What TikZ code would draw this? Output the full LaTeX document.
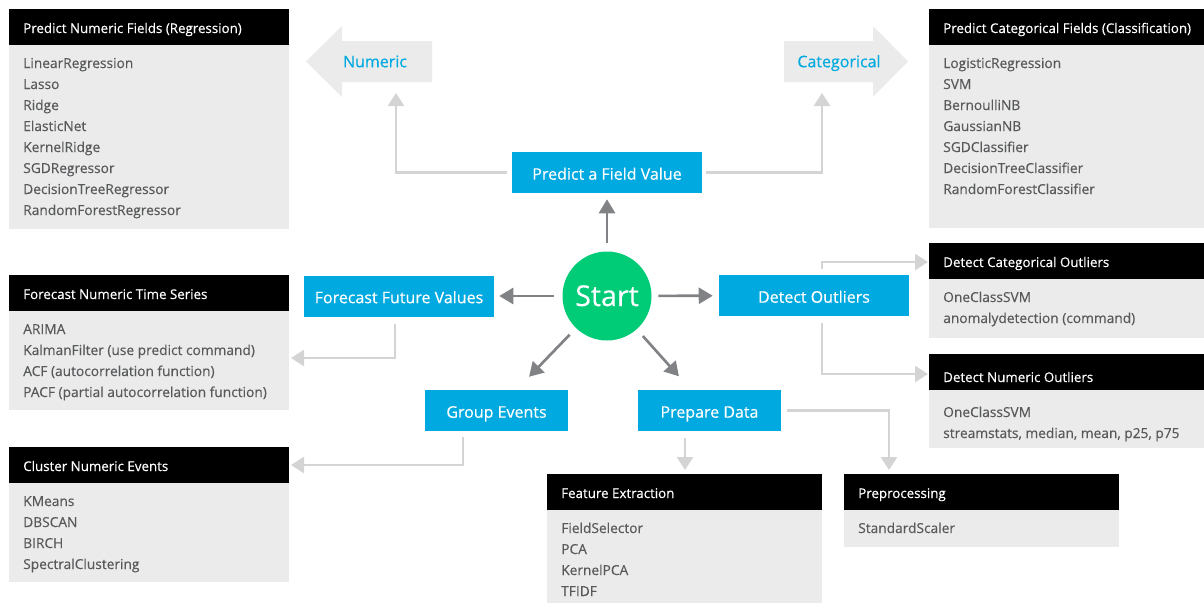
\documentclass[tikz,border=0pt]{standalone}
\usepackage{fontspec}
\setmainfont{Open Sans}
\newfontfamily\medfont{Open Sans}[FakeBold=0.35]
\usetikzlibrary{arrows.meta,calc}
\definecolor{bluebox}{HTML}{00A9E0}
\definecolor{startgreen}{HTML}{00CC78}
\definecolor{bodygray}{HTML}{EBEBEB}
\definecolor{conngray}{HTML}{D4D4D4}
\definecolor{darkarrow}{HTML}{808285}
\definecolor{itemgray}{HTML}{58595B}
\newcommand\pxl{0.75pt}
\tikzset{
  hdrbox/.style={anchor=north west, fill=black, minimum height=36*\pxl, inner sep=0pt, draw=none},
  bodybox/.style={anchor=north west, fill=bodygray, inner sep=0pt, draw=none},
  hdrtext/.style={anchor=base west, inner sep=0pt, text=white, font=\medfont\fontsize{10}{12}\selectfont},
  itemtext/.style={anchor=base west, inner sep=0pt, text=itemgray, font=\medfont\fontsize{10.3}{12}\selectfont},
  bbox/.style={fill=bluebox, text=white, inner sep=0pt, minimum height=41*\pxl, text height=10.8pt, text depth=0pt, font=\medfont\fontsize{12}{14}\selectfont},
  bigarrow/.style={fill=bodygray, draw=none},
  bigarrowtext/.style={text=bluebox, inner sep=0pt, text height=8.6pt, text depth=0pt, font=\medfont\fontsize{12}{14}\selectfont},
  conn/.style={draw=conngray, line width=2pt, -{Triangle[length=9.75pt,width=12pt]}},
  darr/.style={draw=darkarrow, line width=2pt, -{Triangle[length=10.5pt,width=12pt]}}
}
% name, x, top, width, bottom, title, items, text offset
\newcommand\catbox[8]{%
  \node[hdrbox, minimum width=#4*\pxl] (#1-hd) at (#2,#3) {};
  \node[bodybox, minimum width=#4*\pxl, minimum height=(#5-#3-36)*\pxl] (#1-bd) at (#2,#3+36) {};
  \node[hdrtext] (#1-title) at (#2+14,#3+24+#8) {#6};
  \foreach \itm [count=\k] in {#7}
    \node[itemtext] (#1-i\k) at (#2+14,#3+36+23+21*\k-21+#8) {\itm};
}
\begin{document}
\begin{tikzpicture}[x=0.75pt,y=-0.75pt]
\useasboundingbox (0,0) rectangle (1204,603);

% category boxes
\catbox{reg}{9}{9}{280}{229}{Predict Numeric Fields (Regression)}{LinearRegression,Lasso,Ridge,ElasticNet,KernelRidge,SGDRegressor,DecisionTreeRegressor,RandomForestRegressor}{0}
\catbox{cls}{929}{9}{275}{228}{Predict Categorical Fields (Classification)}{LogisticRegression,SVM,BernoulliNB,GaussianNB,SGDClassifier,DecisionTreeClassifier,RandomForestClassifier}{0}
\catbox{fct}{9}{275}{280}{410}{Forecast Numeric Time Series}{ARIMA,KalmanFilter (use predict command),ACF (autocorrelation function),PACF (partial autocorrelation function)}{0}
\catbox{clu}{9}{447}{280}{582}{Cluster Numeric Events}{KMeans,DBSCAN,BIRCH,SpectralClustering}{0}
\catbox{dco}{929}{243}{275}{338}{Detect Categorical Outliers}{OneClassSVM,anomalydetection (command)}{0}
\catbox{dno}{929}{354}{275}{448}{Detect Numeric Outliers}{OneClassSVM,{streamstats, median, mean, p25, p75}}{4}
\catbox{fe}{547}{474}{275}{603}{Feature Extraction}{FieldSelector,PCA,KernelPCA,TFIDF}{0}
\catbox{pp}{844}{474}{275}{547}{Preprocessing}{StandardScaler}{0}

% big gray arrows
\fill[bigarrow] (306,61.5) -- (342,26) -- (342,41) -- (432,41) -- (432,82) -- (342,82) -- (342,97) -- cycle;
\node[bigarrowtext] (numeric) at (375,61.5) {Numeric};
\fill[bigarrow] (908,61.5) -- (873,26) -- (873,41) -- (784,41) -- (784,82) -- (873,82) -- (873,97) -- cycle;
\node[bigarrowtext] (categorical) at (839,61.5) {Categorical};

% blue boxes
\node[bbox, minimum width=190*\pxl] (predict) at (607,172.5) {Predict a Field Value};
\node[bbox, minimum width=190*\pxl] (forecast) at (399,296) {Forecast Future Values};
\node[bbox, minimum width=190*\pxl] (detect) at (814,295.5) {Detect Outliers};
\node[bbox, minimum width=143*\pxl] (group) at (496.5,410.5) {Group Events};
\node[bbox, minimum width=143*\pxl] (prep) at (709.5,410.5) {Prepare Data};

% start
\node[circle, fill=startgreen, text=white, minimum size=89*\pxl, inner sep=0pt, text height=15pt, text depth=0pt, font=\medfont\fontsize{21.5}{24}\selectfont] (start) at (607,296) {Start};

% dark arrows from start
\draw[darr, shorten <=6.4pt, shorten >=4.5pt] (start) -- (predict);
\draw[darr, shorten <=6.4pt, shorten >=3.75pt] (start) -- (forecast);
\draw[darr, shorten <=4.9pt, shorten >=4.5pt] (start) -- (detect);
\draw[darr, shorten <=6.75pt, shorten >=13.5pt] (start) -- (group);
\draw[darr, shorten <=6.75pt, shorten >=13.5pt] (start) -- (prep);

% light connectors
\coordinate (numtip) at (396,93);
\coordinate (cattip) at (822,93);
\coordinate (fcttip) at (291,358);
\coordinate (grptip) at (291,465);
\coordinate (dcotip) at (928,262);
\coordinate (dnotip) at (928,374);
\coordinate (fetip) at (685,470);
\coordinate (pptip) at (889,470);
\draw[conn, shorten <=3.75pt] (predict.west) -| (numtip);
\draw[conn, shorten <=3pt] (predict.east) -| (cattip);
\draw[conn, shorten <=5.25pt] ([xshift=-3pt]forecast.south) |- (fcttip);
\draw[conn, shorten <=4.5pt] ([xshift=-25.1pt]group.south) |- (grptip);
\draw[conn, shorten <=4.5pt] ([xshift=6pt]detect.north) |- (dcotip);
\draw[conn, shorten <=5.25pt] ([xshift=6pt]detect.south) |- (dnotip);
\draw[conn, shorten <=5.25pt] (prep.south -| fetip) -- (fetip);
\draw[conn, shorten <=4.5pt] (prep.east) -| (pptip);
\end{tikzpicture}
\end{document}
